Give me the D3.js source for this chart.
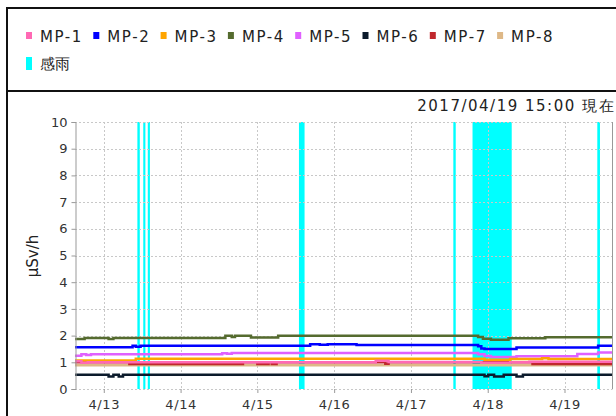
<!DOCTYPE html>
<html><head><meta charset="utf-8">
<script src="https://cdn.jsdelivr.net/npm/d3@7"></script>
<style>
html,body{margin:0;padding:0;background:#fff;}
svg{display:block;}
text{font-family:"DejaVu Sans",sans-serif;}
</style></head>
<body>
<script>
// ---- data ----
const seriesNames = ["MP-1","MP-2","MP-3","MP-4","MP-5","MP-6","MP-7","MP-8"];
const seriesColors = ["#ff69b4","#0000ff","#ffa500","#556b2f","#e060ff","#0b1a2b","#c0282d","#deb887"];
const rainName = "感雨";
const rainColor = "#00ffff";
const xTickLabels = ["4/13","4/14","4/15","4/16","4/17","4/18","4/19"];
const yTickValues = [0,1,2,3,4,5,6,7,8,9,10];
const timeStart = "4/12 15:00", timeEnd = "4/19 15:00";
const titleText = "2017/04/19 15:00 現在";
const yLabel = "μSv/h";

const rainPeriods = [
  ["4/13 10:30","4/13 11:15"],
  ["4/13 12:20","4/13 13:00"],
  ["4/13 13:45","4/13 14:25"],
  ["4/15 13:00","4/15 14:45"],
  ["4/17 13:15","4/17 14:00"],
  ["4/17 19:15","4/18 07:30"],
  ["4/19 10:15","4/19 11:05"]
];

const mp1 = [["4/12 15:00",1.04],["4/12 17:00",0.98],["4/12 19:00",1.00],["4/16 13:00",1.06],["4/16 17:00",1.01],["4/17 22:00",0.98],["4/18 07:00",1.00],["4/18 13:00",1.02],["4/19 15:00",1.02]];
const mp2 = [["4/12 15:00",1.56],["4/13 09:00",1.62],["4/13 10:00",1.58],["4/13 11:30",1.62],["4/15 16:30",1.68],["4/15 19:30",1.66],["4/15 22:00",1.68],["4/16 07:00",1.65],["4/17 21:00",1.60],["4/17 22:00",1.52],["4/17 23:00",1.50],["4/18 09:00",1.55],["4/19 10:30",1.62],["4/19 15:00",1.62]];
const mp3 = [["4/12 15:00",1.07],["4/13 10:00",1.13],["4/17 23:00",1.10],["4/18 07:00",1.12],["4/18 17:00",1.15],["4/18 19:00",1.12],["4/19 15:00",1.12]];
const mp4 = [["4/12 15:00",1.87],["4/12 18:00",1.91],["4/13 01:30",1.87],["4/13 03:00",1.91],["4/14 14:00",1.99],["4/14 16:00",1.95],["4/14 17:00",1.99],["4/14 22:00",1.93],["4/15 06:30",1.99],["4/17 21:00",1.95],["4/17 22:30",1.88],["4/18 01:00",1.84],["4/18 06:30",1.90],["4/18 18:00",1.94],["4/19 15:00",1.94]];
const mp5 = [["4/12 15:00",1.25],["4/12 17:00",1.30],["4/12 18:30",1.27],["4/12 20:00",1.30],["4/14 13:00",1.34],["4/14 14:30",1.32],["4/14 16:00",1.35],["4/17 21:00",1.30],["4/17 23:00",1.24],["4/18 01:00",1.20],["4/18 09:00",1.23],["4/19 04:00",1.31],["4/19 10:30",1.37],["4/19 15:00",1.37]];
const mp6 = [["4/12 15:00",0.53],["4/13 01:30",0.47],["4/13 03:00",0.53],["4/13 04:40",0.47],["4/13 06:00",0.53],["4/17 23:00",0.48],["4/18 00:10",0.53],["4/18 02:00",0.47],["4/18 05:00",0.53],["4/18 09:00",0.47],["4/18 11:00",0.53],["4/19 15:00",0.53]];
const mp7 = [["4/12 15:00",1.00],["4/13 08:00",0.94],["4/14 19:30",1.00],["4/15 00:00",0.94],["4/15 01:30",1.00],["4/15 02:00",0.94],["4/15 03:30",1.00],["4/15 04:30",0.94],["4/15 06:00",1.00],["4/16 16:00",0.95],["4/16 17:00",1.00],["4/18 14:00",0.94],["4/19 15:00",0.94]];
const mp8 = [["4/12 15:00",0.89],["4/19 15:00",0.89]];
const seriesData = [mp1,mp2,mp3,mp4,mp5,mp6,mp7,mp8];

// ---- drawing ----
const W = 616, H = 416;
const parse = s => { const [md, hm] = s.split(" "); const [m,d] = md.split("/").map(Number); const [h,mi] = hm.split(":").map(Number); return new Date(2017, m-1, d, h, mi); };
const svg = d3.select("body").append("svg").attr("width", W).attr("height", H);
svg.append("rect").attr("width", W).attr("height", H).attr("fill", "#fff");

// frames
svg.append("rect").attr("x", 7).attr("y", 8).attr("width", 640).attr("height", 83)
  .attr("fill", "none").attr("stroke", "#111").attr("stroke-width", 2);
svg.append("line").attr("x1", 7).attr("x2", 7).attr("y1", 91).attr("y2", H)
  .attr("stroke", "#111").attr("stroke-width", 2);

const x = d3.scaleTime().domain([parse(timeStart), parse(timeEnd)]).range([75, 612.5]);
const y = d3.scaleLinear().domain([0, 10]).range([389, 122]);

// rain bands
svg.append("g").selectAll("rect").data(rainPeriods).join("rect")
  .attr("x", d => x(parse(d[0]))).attr("width", d => x(parse(d[1])) - x(parse(d[0])))
  .attr("y", y(10)).attr("height", y(0) - y(10)).attr("fill", rainColor);

// grid
const xTicks = xTickLabels.map(s => parse(s + " 00:00"));
const grid = svg.append("g").attr("stroke", "#c8c8c8").attr("stroke-dasharray", "2,2").attr("stroke-width", 1);
grid.selectAll(".h").data(yTickValues).join("line")
  .attr("x1", 75).attr("x2", 612.5).attr("y1", d => Math.round(y(d)) + 0.5).attr("y2", d => Math.round(y(d)) + 0.5);
grid.selectAll(".v").data(xTicks).join("line")
  .attr("y1", y(10)).attr("y2", y(0)).attr("x1", d => Math.round(x(d)) + 0.5).attr("x2", d => Math.round(x(d)) + 0.5);

// series lines (MP-1 on top)
const line = d3.line().x(d => x(parse(d[0]))).y(d => y(d[1])).curve(d3.curveStepAfter);
const order = d3.range(seriesData.length).reverse();
svg.append("g").selectAll("path").data(order).join("path")
  .attr("d", i => line(seriesData[i])).attr("fill", "none")
  .attr("stroke", i => seriesColors[i]).attr("stroke-width", 2.5);

// axes
const yAxis = d3.axisLeft(y).tickValues(yTickValues).tickSize(4).tickPadding(4).tickFormat(d3.format("d"));
const gy = svg.append("g").attr("transform", "translate(75.5,0)").call(yAxis);
gy.select(".domain").attr("stroke", "#999");
gy.selectAll(".tick line").attr("stroke", "#999");
gy.selectAll("text").attr("font-size", 13).attr("fill", "#333").attr("font-family", "DejaVu Sans");

const xAxis = d3.axisBottom(x).tickValues(xTicks).tickSize(4).tickPadding(7).tickFormat((d, i) => xTickLabels[i]);
const gx = svg.append("g").attr("transform", "translate(0,389)").call(xAxis);
gx.select(".domain").remove();
gx.selectAll(".tick line").attr("stroke", "#999");
gx.selectAll("text").attr("font-size", 13).attr("fill", "#333").attr("letter-spacing", 0.6).attr("font-family", "DejaVu Sans");

// right border
svg.append("line").attr("x1", 612.5).attr("x2", 612.5).attr("y1", y(10)).attr("y2", y(0)).attr("stroke", "#999");

// y label
svg.append("text").attr("transform", "translate(38,256) rotate(-90)").attr("text-anchor", "middle")
  .attr("font-size", 15).attr("fill", "#222").text(yLabel);

// title
svg.append("text").attr("x", 615).attr("y", 111).attr("text-anchor", "end")
  .attr("font-size", 15).attr("letter-spacing", 1.5).attr("fill", "#222").text(titleText);

// legend
const leg = svg.append("g");
const items = leg.selectAll("g").data(seriesNames).join("g")
  .attr("transform", (d, i) => `translate(${26 + i * 67.3},0)`);
items.append("rect").attr("x", 0).attr("y", 32).attr("width", 6).attr("height", 7).attr("fill", (d, i) => seriesColors[i]);
items.append("text").attr("x", 14).attr("y", 42).attr("font-size", 15).attr("letter-spacing", 1.6).attr("fill", "#222").text(d => d);
const rl = leg.append("g").attr("transform", "translate(26,0)");
rl.append("rect").attr("x", 0).attr("y", 57).attr("width", 6).attr("height", 13).attr("fill", rainColor);
rl.append("text").attr("x", 14).attr("y", 69).attr("font-size", 15).attr("fill", "#222")
  .attr("font-family", "Noto Sans CJK JP").text(rainName);
</script>
</body></html>
